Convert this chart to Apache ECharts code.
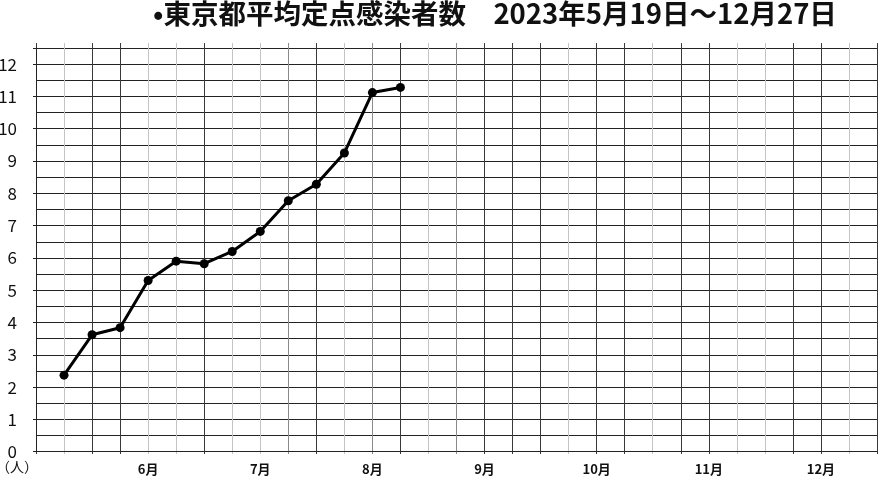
<!DOCTYPE html>
<html>
<head>
<meta charset="utf-8">
<script src="https://cdn.jsdelivr.net/npm/echarts@6/dist/echarts.min.js"></script>
<style>
html,body{margin:0;padding:0;background:#fff;}
#chart{width:880px;height:482px;}
</style>
</head>
<body>
<div id="chart"></div>
<script>
// Data: weekly average per-sentinel cases (Tokyo), week index from axis start
const weekIndex = [1,2,3,4,5,6,7,8,9,10,11,12,13];
const cases = [2.37,3.62,3.84,5.30,5.90,5.82,6.20,6.82,7.77,8.28,9.25,11.12,11.28];
// Month tick labels at week positions
const monthWeeks = [4,8,12,16,20,24,28];
const monthLabels = ['6月','7月','8月','9月','10月','11月','12月'];
const yTickLabels = ['0','1','2','3','4','5','6','7','8','9','10','11','12'];
const titleText = '•東京都平均定点感染者数　2023年5月19日～12月27日';
const unitText = '（人）';

const vShade = {d:'#3a3a3a', l:'#c4c4c4', g:'#8a8a8a'};
const vPattern = 'dlddlldllgdlgdlgdddlddlddllddld';
const vColors = vPattern.split('').map(c => vShade[c]);

const chart = echarts.init(document.getElementById('chart'), null, {renderer:'canvas'});
const F = '"Noto Sans CJK JP", "Noto Sans", sans-serif';

const option = {
  animation: false,
  backgroundColor: '#fff',
  grid: [
    {left: 36, right: 3, top: 43, bottom: 28, containLabel: false, outerBoundsMode: 'none'},
    {left: 36, right: 3, top: 48, bottom: 30.3, containLabel: false, outerBoundsMode: 'none'}
  ],
  xAxis: [
    {gridIndex: 0, type: 'value', min: 0, max: 30, interval: 1,
     axisLine: {show: false}, axisTick: {show: false}, axisLabel: {show: false},
     splitLine: {show: true, lineStyle: {color: vColors, width: 1}}},
    {gridIndex: 1, type: 'value', min: 0, max: 30, interval: 1,
     axisLine: {show: true, lineStyle: {color: '#222', width: 1}},
     axisTick: {show: false},
     splitLine: {show: false},
     axisLabel: {show: true, margin: 11, fontSize: 13, fontWeight: 'bold', fontFamily: F, color: '#111',
       formatter: function(v){ const i = monthWeeks.indexOf(v); return i >= 0 ? monthLabels[i] : ''; }}}
  ],
  yAxis: [
    {gridIndex: 0, type: 'value', min: 0, max: 1, show: false, splitLine: {show: false}},
    {gridIndex: 1, type: 'value', min: 0, max: 12.5, interval: 0.5,
     axisLine: {show: true, lineStyle: {color: '#222', width: 1}},
     axisTick: {show: false}, axisLabel: {show: false},
     splitLine: {show: true, lineStyle: {color: '#222', width: 1}}},
    {gridIndex: 1, type: 'value', min: 0, max: 12.5, interval: 1, position: 'left', offset: 0,
     axisLine: {show: false},
     axisTick: {show: true, length: 3, lineStyle: {color: '#222'}},
     splitLine: {show: false},
     axisLabel: {show: true, margin: 19, fontSize: 17, fontFamily: F, color: '#111',
       formatter: function(v){ return Number.isInteger(v) ? yTickLabels[v] : ''; }}}
  ],
  graphic: [
    {type: 'text', left: 153, top: 0, style: {text: titleText, font: 'bold 27.5px ' + F, fill: '#111'}},
    {type: 'text', left: -4, top: 460, style: {text: unitText, font: '14px ' + F, fill: '#111'}}
  ],
  series: [{
    type: 'line', xAxisIndex: 1, yAxisIndex: 1,
    data: weekIndex.map((w,i) => [w, cases[i]]),
    symbol: 'circle', symbolSize: 9,
    lineStyle: {color: '#000', width: 3},
    itemStyle: {color: '#000'}
  }]
};
chart.setOption(option);
</script>
</body>
</html>
